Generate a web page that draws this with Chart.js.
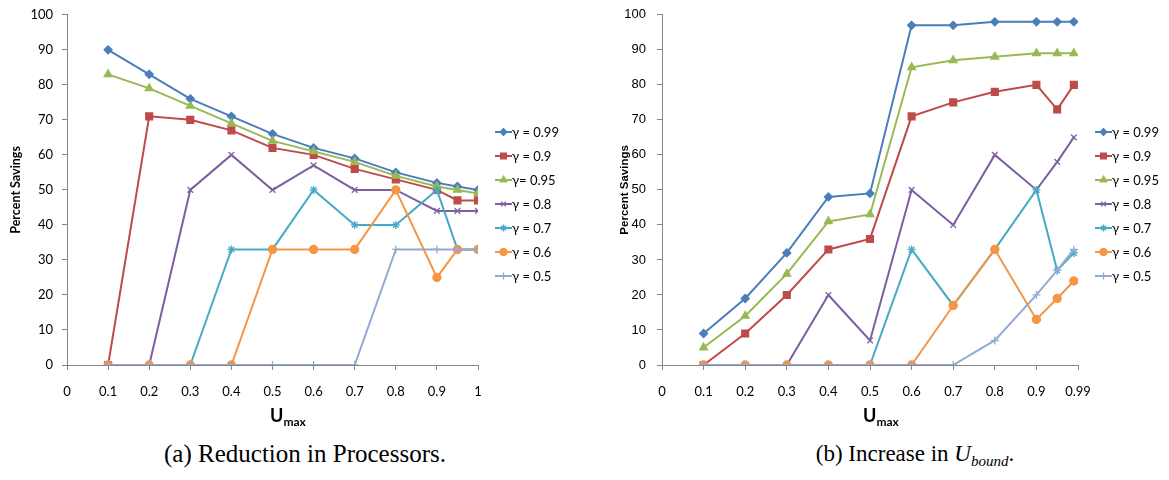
<!DOCTYPE html>
<html>
<head>
<meta charset="utf-8">
<script src="https://cdn.jsdelivr.net/npm/chart.js@4/dist/chart.umd.min.js"></script>
<style>
  body { margin: 0; background: #fff; width: 1169px; height: 480px; position: relative; overflow: hidden; }
  .box { position: absolute; }
  .xt { position: absolute; top: 404px; font-family: Lato, sans-serif; font-weight: bold; font-size: 18px; color: #000; }
  .xt sub { font-size: 12px; vertical-align: -4px; }
  .cap { position: absolute; top: 440px; width: 400px; text-align: center; font-family: "Liberation Serif", serif; color: #000; white-space: nowrap; }
  .cap sub { font-size: 15px; font-style: italic; vertical-align: -5px; }
</style>
</head>
<body>
<div class="box" style="left:0px;top:-2px;width:600px;height:407px"><canvas id="chartA"></canvas></div>
<div class="box" style="left:590px;top:-4px;width:579px;height:409px"><canvas id="chartB"></canvas></div>
<div class="xt" style="left:270px">U<sub>max</sub></div>
<div class="xt" style="left:863px">U<sub>max</sub></div>
<div class="cap" style="left:105px;font-size:25px">(a) Reduction in Processors.</div>
<div class="cap" style="left:715px;font-size:23px;top:441px">(b) Increase in <i>U</i><sub>bound</sub>.</div>
<script>
// x values (Umax)
const umaxA = [0.1, 0.2, 0.3, 0.4, 0.5, 0.6, 0.7, 0.8, 0.9, 0.95, 1.0];
const umaxB = [0.1, 0.2, 0.3, 0.4, 0.5, 0.6, 0.7, 0.8, 0.9, 0.95, 0.99];

const namesA = ["γ = 0.99", "γ = 0.9", "γ= 0.95", "γ = 0.8", "γ = 0.7", "γ = 0.6", "γ = 0.5"];
const namesB = ["γ = 0.99", "γ = 0.9", "γ = 0.95", "γ = 0.8", "γ = 0.7", "γ = 0.6", "γ = 0.5"];

// (a) reduction in processors
const a099 = [90, 83, 76, 71, 66, 62, 59, 55, 52, 51, 50];
const a090 = [0, 71, 70, 67, 62, 60, 56, 53, 50, 47, 47];
const a095 = [83, 79, 74, 69, 64, 61, 58, 54, 51, 50, 49];
const a080 = [0, 0, 50, 60, 50, 57, 50, 50, 44, 44, 44];
const a070 = [0, 0, 0, 33, 33, 50, 40, 40, 50, 33, 33];
const a060 = [0, 0, 0, 0, 33, 33, 33, 50, 25, 33, 33];
const a050 = [0, 0, 0, 0, 0, 0, 0, 33, 33, 33, 33];

// (b) increase in Ubound
const b099 = [9, 19, 32, 48, 49, 97, 97, 98, 98, 98, 98];
const b090 = [0, 9, 20, 33, 36, 71, 75, 78, 80, 73, 80];
const b095 = [5, 14, 26, 41, 43, 85, 87, 88, 89, 89, 89];
const b080 = [0, 0, 0, 20, 7, 50, 40, 60, 50, 58, 65];
const b070 = [0, 0, 0, 0, 0, 33, 17, 33, 50, 27, 32];
const b060 = [0, 0, 0, 0, 0, 0, 17, 33, 13, 19, 24];
const b050 = [0, 0, 0, 0, 0, 0, 0, 7, 20, 27, 33];

const colors = ["#4A7EBB", "#BE4B48", "#98B954", "#7D60A0", "#46AAC5", "#F69544", "#93AAD3"];
const styles = ["rectRot", "rect", "triangle", "crossRot", "star", "circle", "cross"];
const radii = [4, 4.8, 4.5, 4, 4, 4, 4];

function makeSets(xs, series, names) {
  var sets = [];
  for (var i = 0; i < series.length; i++) {
    var pts = [];
    for (var j = 0; j < xs.length; j++) pts.push({x: xs[j], y: series[i][j]});
    sets.push({
      label: names[i],
      data: pts,
      borderColor: colors[i],
      backgroundColor: colors[i],
      borderWidth: 2,
      pointStyle: styles[i],
      pointRadius: radii[i],
      pointBorderWidth: 1.3,
      pointBorderColor: colors[i],
      pointBackgroundColor: colors[i],
      showLine: true,
      tension: 0,
      order: series.length - i
    });
  }
  return sets;
}

// legend drawn like excel: short line with marker in the middle
const lineLegend = {
  id: "lineLegend",
  afterDraw(chart, args, opts) {
    const ctx = chart.ctx;
    ctx.save();
    ctx.font = "13px Lato, sans-serif";
    ctx.textBaseline = "middle";
    chart.data.datasets.forEach(function(ds, i) {
      var y = opts.y + i * 24;
      ctx.strokeStyle = ds.borderColor;
      ctx.fillStyle = ds.borderColor;
      ctx.lineWidth = 2;
      ctx.beginPath();
      ctx.moveTo(opts.x, y);
      ctx.lineTo(opts.x + 17, y);
      ctx.stroke();
      ctx.lineWidth = 1.3;
      Chart.helpers.drawPoint(ctx, {pointStyle: ds.pointStyle, radius: ds.pointRadius * 0.85, rotation: 0, borderWidth: 1.3}, opts.x + 8.5, y);
      ctx.fillStyle = "#000";
      ctx.fillText(ds.label, opts.x + 17, y + 1);
    });
    ctx.restore();
  }
};

function makeChart(id, sets, o) {
  return new Chart(document.getElementById(id).getContext("2d"), {
    type: "scatter",
    data: {datasets: sets},
    options: {
      responsive: true,
      maintainAspectRatio: false,
      animation: false,
      layout: {padding: {top: 12, right: o.padRight, left: 0, bottom: 0}},
      plugins: {
        legend: {display: false},
        tooltip: {enabled: false},
        lineLegend: {x: o.legX, y: o.legY}
      },
      scales: {
        x: {
          type: "linear",
          min: 0,
          max: 1,
          afterFit: function(s) { s.height = 40; },
          grid: {drawOnChartArea: false, tickLength: 5, color: "#868686"},
          border: {color: "#868686", width: 1},
          ticks: {
            stepSize: 0.1,
            padding: 14,
            color: "#000",
            font: {family: "Lato, sans-serif", size: 13},
            maxRotation: 0,
            autoSkip: false,
            callback: function(v) {
              var r = Math.round(v * 10) / 10;
              if (r === 1 && o.lastLabel) return o.lastLabel;
              return String(r);
            }
          }
        },
        y: {
          min: 0,
          max: 100,
          afterFit: function(s) { s.width = o.yWidth; },
          grid: {drawOnChartArea: false, tickLength: 5, color: "#868686"},
          border: {color: "#868686", width: 1},
          ticks: {
            stepSize: 10,
            padding: o.yPad,
            color: "#000",
            font: {family: o.yFont, size: 13}
          },
          title: {
            display: true,
            text: "Percent Savings",
            color: "#000",
            padding: {top: o.titlePad, bottom: 0},
            font: {family: o.yFont, size: o.titleSize, weight: "bold"}
          }
        }
      }
    },
    plugins: [lineLegend]
  });
}

makeChart("chartA", makeSets(umaxA, [a099, a090, a095, a080, a070, a060, a050], namesA),
  {padRight: 122, legX: 495, legY: 134, yWidth: 67, yPad: 9, titlePad: 8, titleSize: 12.5, yFont: "Lato, sans-serif"});

makeChart("chartB", makeSets(umaxB, [b099, b090, b095, b080, b070, b060, b050], namesB),
  {padRight: 91, legX: 505, legY: 136, yWidth: 72, yPad: 11, titlePad: 28, titleSize: 11.5, yFont: "'Liberation Sans', Arial, sans-serif", lastLabel: "0.99"});
</script>
</body>
</html>
